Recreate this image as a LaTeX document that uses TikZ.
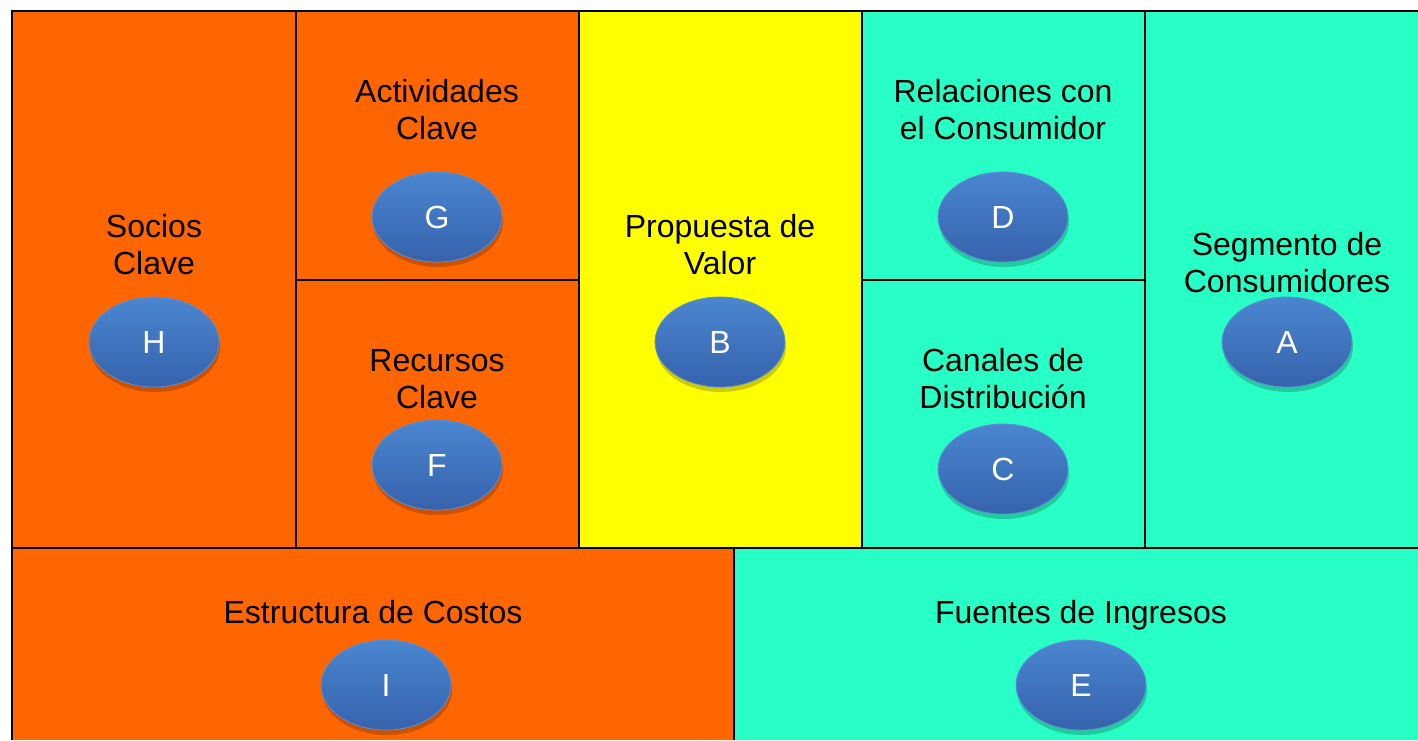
\documentclass[tikz,border=0pt]{standalone}
\usepackage{fontspec}
\setmainfont{Liberation Sans}
\usetikzlibrary{shapes.geometric,shadows}
\definecolor{corange}{HTML}{FF6600}
\definecolor{cyellow}{HTML}{FFFF00}
\definecolor{ccyan}{HTML}{28FFC6}
\definecolor{btop}{HTML}{4A86D0}
\definecolor{bbot}{HTML}{3762AC}
\definecolor{bline}{HTML}{5A8FD6}
\tikzset{
  grid/.style={line width=2.8pt, black},
  lbl/.style={font=\fontsize{32}{37}\selectfont, align=center, text=black, inner sep=0pt},
  lbl1/.style={lbl, anchor=base},
  bub/.style={ellipse, minimum width=130pt, minimum height=90pt, inner sep=0pt,
    top color=btop, bottom color=bbot, draw=bline, line width=0.8pt,
    text=white, font=\fontsize{32}{34}\selectfont,
    drop shadow={shadow xshift=1pt, shadow yshift=-5pt, fill=black, opacity=0.2}},
}
\begin{document}
\begin{tikzpicture}[x=1pt,y=-1pt]
\useasboundingbox (0,0) rectangle (1418,740);
% fills
\fill[corange] (12,11) rectangle (579,548);
\fill[corange] (12,548) rectangle (734,740);
\fill[cyellow] (579,11) rectangle (862,548);
\fill[ccyan] (862,11) rectangle (1418,548);
\fill[ccyan] (734,548) rectangle (1418,740);
% grid lines
\draw[grid] (12,740) -- (12,11) -- (1418,11);
\draw[grid] (12,548) -- (1418,548);
\draw[grid] (296,11) -- (296,548);
\draw[grid] (579,11) -- (579,548);
\draw[grid] (862,11) -- (862,548);
\draw[grid] (1145,11) -- (1145,548);
\draw[grid] (734,548) -- (734,740);
\draw[grid] (296,280) -- (579,280);
\draw[grid] (862,280) -- (1145,280);
% labels
\node[lbl] (tsocios) at (154,245) {Socios\\Clave};
\node[lbl] (tact) at (437,110) {Actividades\\Clave};
\node[lbl] (trec) at (437,379) {Recursos\\Clave};
\node[lbl] (tprop) at (720,245) {Propuesta de\\Valor};
\node[lbl] (trel) at (1003,110) {Relaciones con\\el Consumidor};
\node[lbl] (tcan) at (1003,379) {Canales de\\Distribución};
\node[lbl] (tseg) at (1287,263) {Segmento de\\Consumidores};
\node[lbl1] (test) at (373,623) {Estructura de Costos};
\node[lbl1] (tfue) at (1081,623) {Fuentes de Ingresos};
% bubbles
\node[bub] (h) at (154,342) {H};
\node[bub] (g) at (437,217) {G};
\node[bub] (f) at (437,465) {F};
\node[bub] (b) at (720,342) {B};
\node[bub] (d) at (1003,217) {D};
\node[bub] (c) at (1003,469) {C};
\node[bub] (a) at (1287,342) {A};
\node[bub] (i) at (386,685) {I};
\node[bub] (e) at (1081,685) {E};
\end{tikzpicture}
\end{document}
